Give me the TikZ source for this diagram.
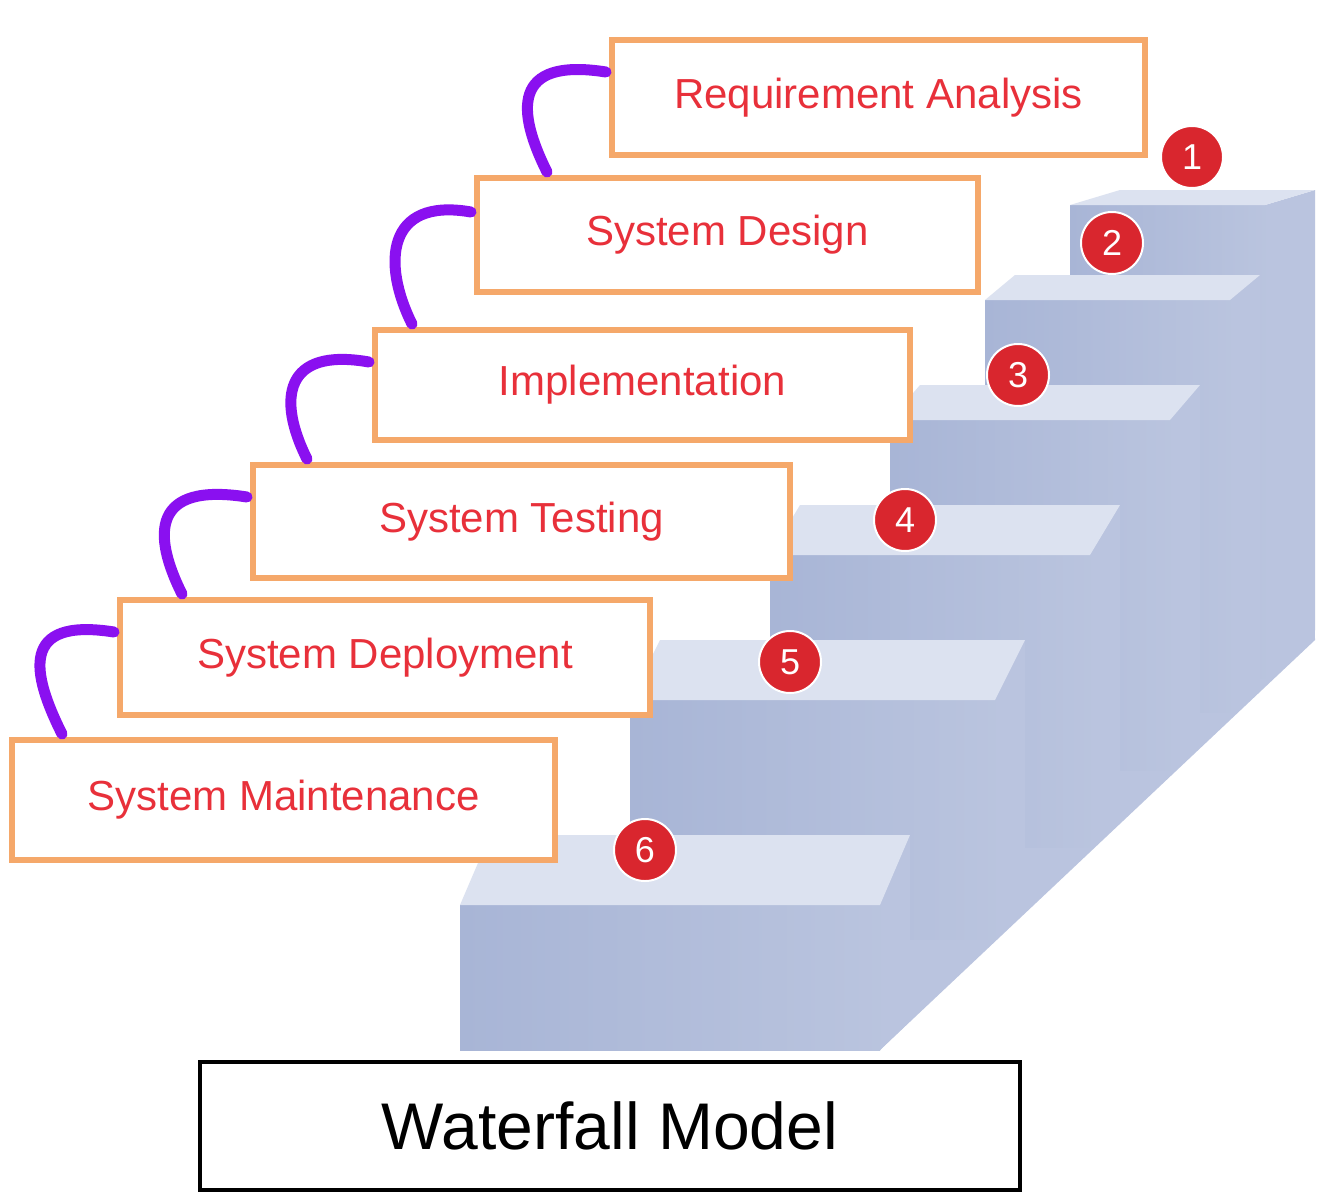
\documentclass[tikz,border=0pt]{standalone}
\usepackage{fontspec}
\setmainfont{Liberation Sans}
\usetikzlibrary{calc}
\definecolor{boxor}{HTML}{F5A86A}
\definecolor{txtred}{HTML}{E8303A}
\definecolor{hook}{HTML}{8A10F0}
\definecolor{topf}{HTML}{DCE2F0}
\definecolor{frontf}{HTML}{A8B5D6}
\definecolor{sidef}{HTML}{BCC6E0}
\definecolor{badge}{HTML}{D9262E}
\tikzset{
 phase/.style={draw=boxor,line width=6pt,fill=white,inner sep=0pt,text=txtred,font=\fontsize{42}{46}\selectfont},
 hookline/.style={draw=hook,line width=11pt,line cap=round},
 numbadge/.style={circle,fill=badge,draw=white,line width=2pt,minimum size=62pt,inner sep=0pt,text=white,font=\fontsize{36}{38}\selectfont},
}
% ground line g(x) = 1050 - 0.965 (x-880)
\newcommand{\stepcol}[5]{% xl xr ytop yback dx
 \fill[sidef!90!frontf] (#2,#3) -- (#2+#5,#4) -- (#2+#5,{1050-0.965*(#2+#5-880)}) -- (#2,{1050-0.965*(#2-880)}) -- cycle;
 \shade[left color=frontf,right color=frontf!80!white] (#1,#3) rectangle (#2,{1050-0.965*(#2-880)});
 \fill[topf] (#1,#3) -- (#2,#3) -- (#2+#5,#4) -- (#1+#5,#4) -- cycle;
}
\begin{document}
\begin{tikzpicture}[x=1pt,y=-1pt]
\useasboundingbox (0,0) rectangle (1335,1200);
\fill[white] (0,0) rectangle (1335,1200);
% backing side mass
\fill[sidef!90!frontf] (905,840) -- (1310,192) -- (1315,640) -- (880,1050) -- cycle;
% stairs back to front
\stepcol{1070}{1265}{205}{190}{50}
\stepcol{985}{1230}{300}{275}{30}
\stepcol{890}{1170}{420}{385}{30}
\stepcol{770}{1090}{555}{505}{30}
\stepcol{630}{995}{700}{640}{30}
\stepcol{460}{880}{905}{835}{30}
% badges
\node[numbadge] (n1) at (1192,157) {1};
\node[numbadge] (n2) at (1112,243) {2};
\node[numbadge] (n3) at (1018,375) {3};
\node[numbadge] (n4) at (905,520) {4};
\node[numbadge] (n5) at (790,662) {5};
\node[numbadge] (n6) at (645,850) {6};
% phase boxes
\node[phase,minimum width=533pt,minimum height=115pt] (b1) at (878.5,97.5) {Requirement Analysis};
\node[phase,minimum width=501pt,minimum height=114pt] (b2) at (727.5,235) {System Design};
\node[phase,minimum width=535pt,minimum height=110pt] (b3) at (642.5,385) {Implementation};
\node[phase,minimum width=537pt,minimum height=113pt] (b4) at (521.5,521.5) {System Testing};
\node[phase,minimum width=530pt,minimum height=115pt] (b5) at (385,657.5) {System Deployment};
\node[phase,minimum width=543pt,minimum height=120pt] (b6) at (283.5,800) {System Maintenance};
% hooks
\draw[hookline] ($(b1.north west)+(-3,35)$) .. controls +(-95,-15) and +(-30,-60) .. ($(b2.north west)+(73,-3)$);
\draw[hookline] ($(b2.north west)+(-3,37)$) .. controls +(-85,-15) and +(-30,-60) .. ($(b3.north west)+(40,-3)$);
\draw[hookline] ($(b3.north west)+(-3,35)$) .. controls +(-85,-15) and +(-30,-60) .. ($(b4.north west)+(57,-3)$);
\draw[hookline] ($(b4.north west)+(-3,35)$) .. controls +(-95,-15) and +(-30,-60) .. ($(b5.north west)+(65,-3)$);
\draw[hookline] ($(b5.north west)+(-3,35)$) .. controls +(-95,-15) and +(-30,-60) .. ($(b6.north west)+(53,-3)$);
% title
\node[draw=black,line width=4pt,minimum width=820pt,minimum height=128pt,inner sep=0pt,font=\fontsize{66}{70}\selectfont] (title) at (610,1126) {Waterfall Model};
\end{tikzpicture}
\end{document}
